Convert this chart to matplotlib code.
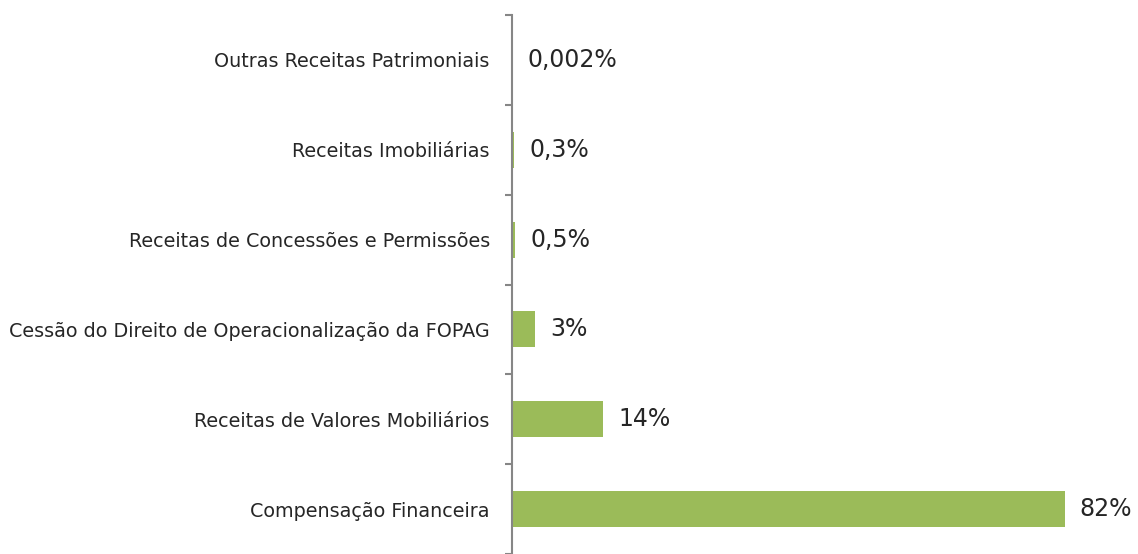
import numpy as np
import matplotlib.pyplot as plt

categorias = ['Compensação Financeira',
              'Receitas de Valores Mobiliários',
              'Cessão do Direito de Operacionalização da FOPAG',
              'Receitas de Concessões e Permissões',
              'Receitas Imobiliárias',
              'Outras Receitas Patrimoniais']
valores = [82.0, 13.5, 3.4, 0.5, 0.3, 0.002]
rotulos = ['82%', '14%', '3%', '0,5%', '0,3%', '0,002%']

fig = plt.figure(figsize=(11.38, 5.54), dpi=100)
ax = fig.add_axes([512/1138, 0, (1138-512)/1138, 1 - 15/554])

pos = np.arange(len(categorias))
ax.barh(pos, valores, height=0.4, color='#9BBB59')

for p, v, r in zip(pos, valores, rotulos):
    ax.annotate(r, (v, p), xytext=(11, 0), textcoords='offset points',
                va='center', ha='left', fontsize=17, color='#262626')

ax.set_xlim(0, 92.9)
ax.set_ylim(-0.5, len(categorias) - 0.5)
ax.set_yticks(pos)
ax.set_yticklabels(categorias, fontsize=13.8, color='#262626')
ax.tick_params(axis='y', which='major', length=0, pad=16)
ax.set_yticks(np.arange(-0.5, len(categorias)), minor=True)
ax.tick_params(axis='y', which='minor', length=5, width=1.5, color='#868686')
ax.set_xticks([])

for s in ['top', 'right', 'bottom']:
    ax.spines[s].set_visible(False)
ax.spines['left'].set_color('#868686')
ax.spines['left'].set_linewidth(1.5)

fig.savefig('out.png', dpi=100)
